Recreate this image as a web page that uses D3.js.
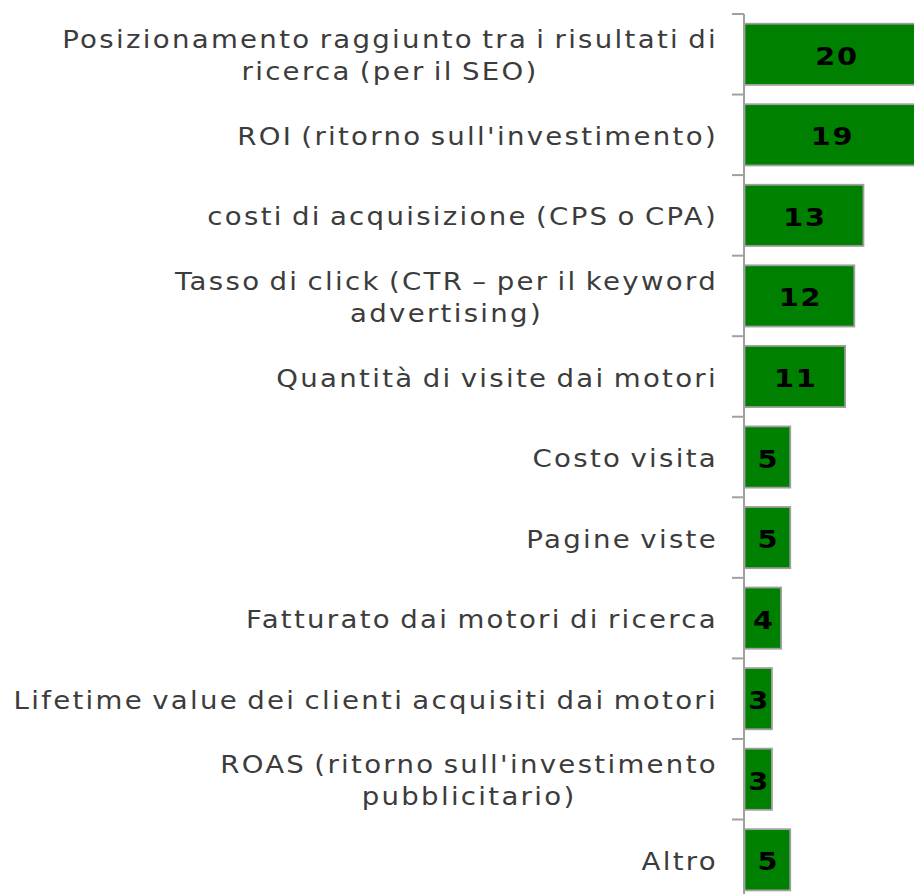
<!DOCTYPE html>
<html>
<head>
<meta charset="utf-8">
<script src="https://cdn.jsdelivr.net/npm/d3@7"></script>
<style>
  body { margin: 0; background: #fff; }
  svg { display: block; }
  .cat text { font-family: "DejaVu Sans", Verdana, sans-serif; font-size: 24px; fill: #3c3c3c; letter-spacing: 2px; word-spacing: -2.5px; }
  .val { font-family: "DejaVu Sans", Verdana, sans-serif; font-size: 25px; font-weight: bold; fill: #000; letter-spacing: 1.5px; }
</style>
</head>
<body>
<svg id="chart" width="914" height="894"></svg>
<script>
// categories (lines split by "\n"), values
var categories = [
    "Posizionamento raggiunto tra i risultati di\nricerca (per il SEO)",
    "ROI (ritorno sull'investimento)",
    "costi di acquisizione (CPS o CPA)",
    "Tasso di click (CTR – per il keyword\nadvertising)",
    "Quantità di visite dai motori",
    "Costo visita",
    "Pagine viste",
    "Fatturato dai motori di ricerca",
    "Lifetime value dei clienti acquisiti dai motori",
    "ROAS (ritorno sull'investimento\npubblicitario)",
    "Altro"
];
var values = [20, 19, 13, 12, 11, 5, 5, 4, 3, 3, 5];

var margin = {top: 14, left: 744},
    step = 80.55,
    height = step * categories.length,
    sx = 1.15;   // glyphs in the original are a bit wider

var svg = d3.select("#chart");
var chart = svg.append("g")
    .attr("transform", "translate(" + margin.left + "," + margin.top + ")");

var x = d3.scaleLinear()
    .domain([0, 20])
    .range([0, 183]);

var y = d3.scaleBand()
    .domain(d3.range(categories.length))
    .range([0, height])
    .paddingInner(0.24)
    .paddingOuter(0.12);

// bars
chart.selectAll(".bar")
    .data(values)
  .enter().append("rect")
    .attr("class", "bar")
    .attr("x", 0.5)
    .attr("y", function(d, i) { return y(i); })
    .attr("width", function(d) { return x(d); })
    .attr("height", y.bandwidth())
    .attr("fill", "#008000")
    .attr("stroke", "#a0a0a0")
    .attr("stroke-width", 1.8);

chart.selectAll(".val")
    .data(values)
  .enter().append("text")
    .attr("class", "val")
    .attr("transform", function(d, i) {
        return "translate(" + (x(d) / 2 + 1.5) + "," + (y(i) + y.bandwidth() / 2) + ") scale(" + sx + ",1)";
    })
    .attr("dy", "0.42em")
    .attr("text-anchor", "middle")
    .text(function(d) { return d; });

// axis line + ticks between categories
var axis = chart.append("g");
axis.append("line")
    .attr("x1", 0).attr("x2", 0)
    .attr("y1", 0).attr("y2", height)
    .attr("stroke", "#a0a0a0")
    .attr("stroke-width", 2);
axis.selectAll(".tick")
    .data(d3.range(categories.length + 1))
  .enter().append("line")
    .attr("x1", -12).attr("x2", 0)
    .attr("y1", function(i) { return i * step; })
    .attr("y2", function(i) { return i * step; })
    .attr("stroke", "#a0a0a0")
    .attr("stroke-width", 2);

// category labels: block right-aligned, lines centred within block
var lineH = 32, right = -26;
var cat = chart.append("g").attr("class", "cat");
cat.selectAll("g")
    .data(categories)
  .enter().append("g")
    .each(function(d, i) {
        var lines = d.split("\n");
        var g = d3.select(this);
        var yc = y(i) + y.bandwidth() / 2;
        var y0 = yc - (lines.length - 1) * lineH / 2;
        var texts = lines.map(function(l, k) {
            return g.append("text")
                .datum(y0 + k * lineH)
                .attr("dy", "0.42em")
                .attr("text-anchor", "middle")
                .text(l);
        });
        var w = d3.max(texts, function(t) { return t.node().getComputedTextLength(); });
        texts.forEach(function(t) {
            t.attr("transform", "translate(" + (right - sx * w / 2) + "," + t.datum() + ") scale(" + sx + ",1)");
        });
    });
</script>
</body>
</html>
